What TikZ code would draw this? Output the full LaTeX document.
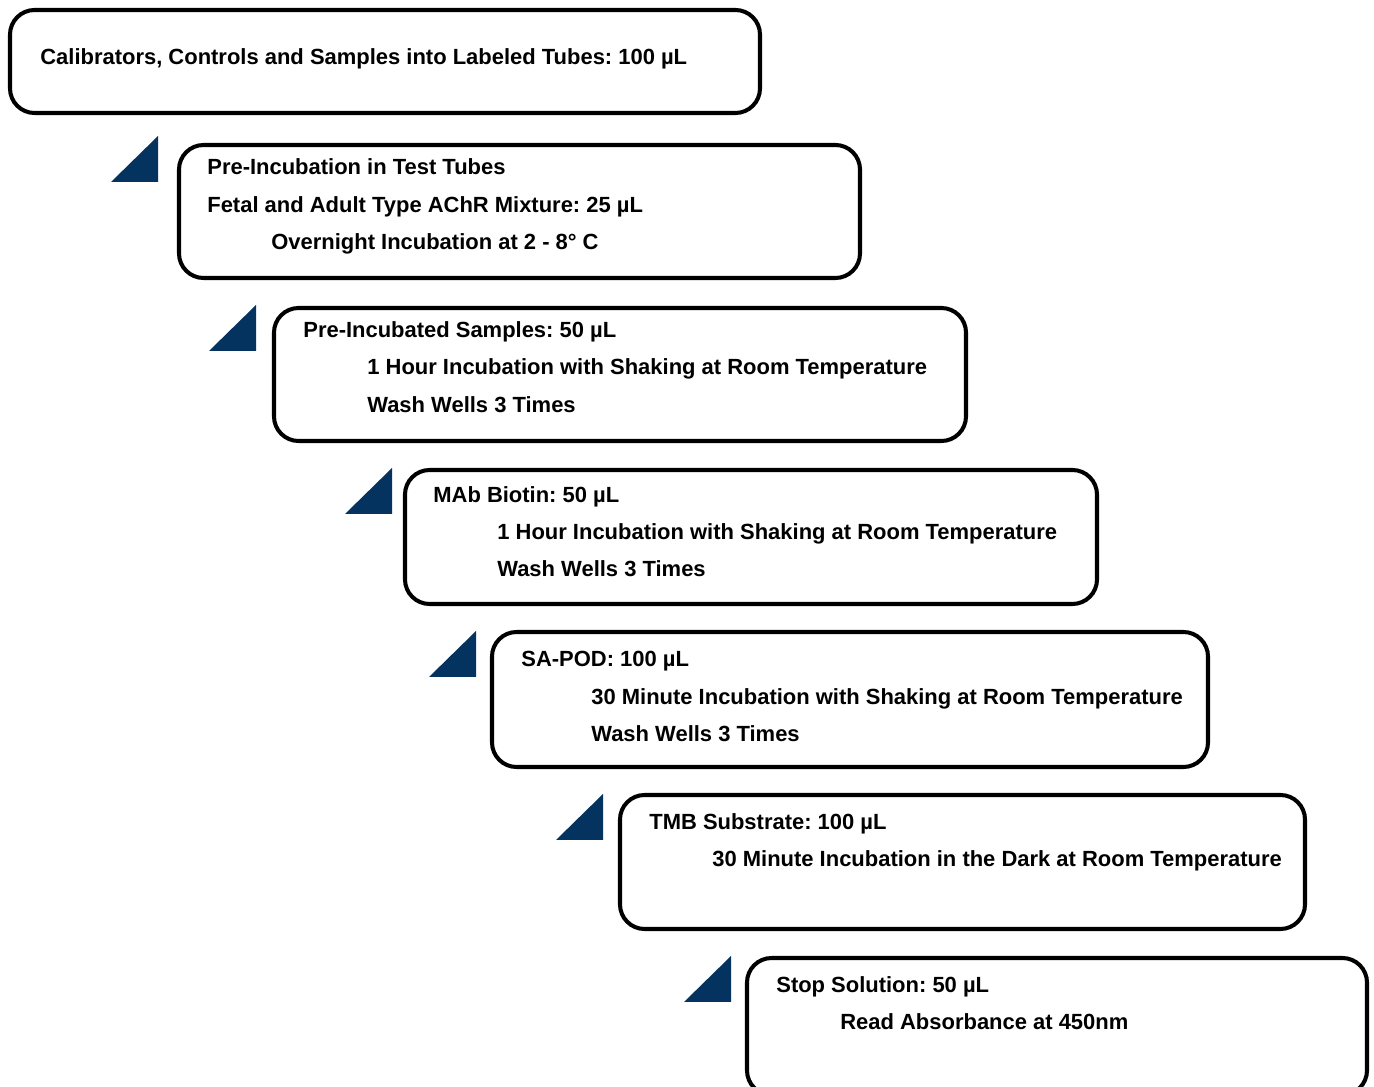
\documentclass[tikz,border=0pt]{standalone}
\usepackage{fontspec}
\setmainfont{Liberation Sans}
\frenchspacing
\definecolor{stepnavy}{RGB}{3,51,94}
\tikzset{
  stepbox/.style={draw=black, line width=2.3pt, rounded corners=14pt},
  steptext/.style={anchor=base west, inner sep=0pt, yshift=-4.5pt, font=\bfseries\fontsize{12.5}{15}\selectfont}
}
\begin{document}
\begin{tikzpicture}[x=0.02cm, y=-0.02cm]
    \useasboundingbox (0,0) rectangle (1374,1087);
        \foreach \x/\y in {111/182, 209/351, 345/514, 429/677, 556/840, 684/1002}
        \fill[stepnavy] (\x,\y) -- (\x+47,\y-46) -- (\x+47,\y) -- cycle;
        \draw[stepbox] (10,10) rectangle (760,113);
        \draw[stepbox] (179,145) rectangle (860,278);
        \draw[stepbox] (274,308) rectangle (966,441);
        \draw[stepbox] (405,470) rectangle (1097,604);
        \draw[stepbox] (492,632) rectangle (1208,767);
        \draw[stepbox] (620,795) rectangle (1305,929);
        \draw[stepbox] (747,958) rectangle (1367,1095);
    \node[steptext] (tubes) at (40,57) {Calibrators, Controls and Samples into Labeled Tubes: 100 µL};
    \node[steptext] (preinc) at (207,167) {Pre-Incubation in Test Tubes};
    \node[steptext] (achr) at (207,205) {Fetal and Adult Type AChR Mixture: 25 µL};
    \node[steptext] (overnight) at (271,242) {Overnight Incubation at 2 - 8° C};
    \node[steptext] (samples) at (303,330) {Pre-Incubated Samples: 50 µL};
    \node[steptext] (shakeA) at (367,367) {1 Hour Incubation with Shaking at Room Temperature};
    \node[steptext] (washA) at (367,405) {Wash Wells 3 Times};
    \node[steptext] (biotin) at (433,495) {MAb Biotin: 50 µL};
    \node[steptext] (shakeB) at (497,532) {1 Hour Incubation with Shaking at Room Temperature};
    \node[steptext] (washB) at (497,569) {Wash Wells 3 Times};
    \node[steptext] (sapod) at (521,659) {SA-POD: 100 µL};
    \node[steptext] (shakeC) at (591,697) {30 Minute Incubation with Shaking at Room Temperature};
    \node[steptext] (washC) at (591,734) {Wash Wells 3 Times};
    \node[steptext] (tmb) at (649,822) {TMB Substrate: 100 µL};
    \node[steptext] (dark) at (712,859) {30 Minute Incubation in the Dark at Room Temperature};
    \node[steptext] (stop) at (776,985) {Stop Solution: 50 µL};
    \node[steptext] (read) at (840,1022) {Read Absorbance at 450nm};
\end{tikzpicture}
\end{document}
